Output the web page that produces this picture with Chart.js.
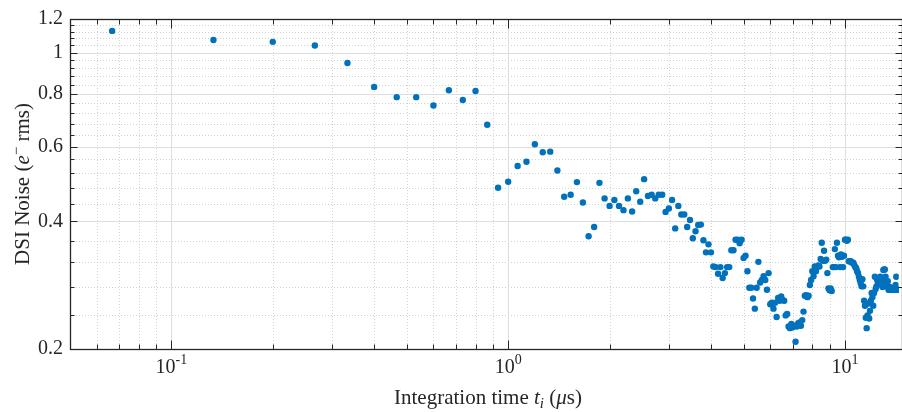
<!DOCTYPE html>
<html>
<head>
<meta charset="utf-8">
<script src="https://cdn.jsdelivr.net/npm/chart.js@4.4.0/dist/chart.umd.min.js"></script>
<style>
  html, body { margin: 0; padding: 0; background: #fff; }
</style>
</head>
<body>
<canvas id="myChart" width="902" height="412"></canvas>
<script>
// integration time (us)
const times = [
  0.0667, 0.1333, 0.2, 0.2667, 0.3333, 0.4, 0.4667, 0.5333, 0.6, 0.6667, 0.7333, 0.8, 0.8667, 0.9333,
  1, 1.0667, 1.1333, 1.2, 1.2667, 1.3333, 1.4, 1.4667, 1.5333, 1.6, 1.6667, 1.7333, 1.8, 1.8667, 1.9333,
  2, 2.0667, 2.1333, 2.2, 2.2667, 2.3333, 2.4, 2.4667, 2.5333, 2.6, 2.6667, 2.7333, 2.8, 2.8667, 2.9333,
  3, 3.0667, 3.1333, 3.2, 3.2667, 3.3333, 3.4, 3.4667, 3.5333, 3.6, 3.6667, 3.7333, 3.8, 3.8667, 3.9333,
  4, 4.0667, 4.1333, 4.2, 4.2667, 4.3333, 4.4, 4.4667, 4.5333, 4.6, 4.6667, 4.7333, 4.8, 4.8667, 4.9333,
  5, 5.0667, 5.1333, 5.2, 5.2667, 5.3333, 5.4, 5.4667, 5.5333, 5.6, 5.6667, 5.7333, 5.8, 5.8667, 5.9333,
  6, 6.0667, 6.1333, 6.2, 6.2667, 6.3333, 6.4, 6.4667, 6.5333, 6.6, 6.6667, 6.7333, 6.8, 6.8667, 6.9333,
  7, 7.0667, 7.1333, 7.2, 7.2667, 7.3333, 7.4, 7.4667, 7.5333, 7.6, 7.6667, 7.7333, 7.8, 7.8667, 7.9333,
  8, 8.0667, 8.1333, 8.2, 8.2667, 8.3333, 8.4, 8.4667, 8.5333, 8.6, 8.6667, 8.7333, 8.8, 8.8667, 8.9333,
  9, 9.0667, 9.1333, 9.2, 9.2667, 9.3333, 9.4, 9.4667, 9.5333, 9.6, 9.6667, 9.7333, 9.8, 9.8667, 9.9333,
  10, 10.0667, 10.1333, 10.2, 10.2667, 10.3333, 10.4, 10.4667, 10.5333, 10.6, 10.6667, 10.7333, 10.8, 10.8667, 10.9333,
  11, 11.0667, 11.1333, 11.2, 11.2667, 11.3333, 11.4, 11.4667, 11.5333, 11.6, 11.6667, 11.7333, 11.8, 11.8667, 11.9333,
  12, 12.0667, 12.1333, 12.2, 12.2667, 12.3333, 12.4, 12.4667, 12.5333, 12.6, 12.6667, 12.7333, 12.8, 12.8667, 12.9333,
  13, 13.0667, 13.1333, 13.2, 13.2667, 13.3333, 13.4, 13.4667, 13.5333, 13.6, 13.6667, 13.7333, 13.8, 13.8667, 13.9333,
  14, 14.0667, 14.1333, 14.2, 14.2667, 14.3333, 14.4
];

// DSI noise (e- rms)
const noise = [
  1.125, 1.071, 1.06, 1.039, 0.945, 0.83, 0.785, 0.785, 0.75, 0.815, 0.773, 0.812, 0.676, 0.48,
  0.496, 0.54, 0.553, 0.608, 0.582, 0.584, 0.527, 0.457, 0.462, 0.495, 0.443, 0.369, 0.388, 0.493, 0.453,
  0.435, 0.449, 0.435, 0.425, 0.453, 0.422, 0.471, 0.445, 0.503, 0.459, 0.462, 0.453, 0.462, 0.462, 0.421,
  0.429, 0.449, 0.385, 0.435, 0.415, 0.415, 0.388, 0.403, 0.365, 0.379, 0.392, 0.393, 0.361, 0.338, 0.353,
  0.338, 0.313, 0.312, 0.301, 0.312, 0.294, 0.302, 0.312, 0.312, 0.342, 0.342, 0.362, 0.362, 0.355, 0.362,
  0.328, 0.332, 0.305, 0.279, 0.279, 0.263, 0.249, 0.279, 0.321, 0.287, 0.291, 0.297, 0.291, 0.276, 0.302,
  0.255, 0.257, 0.249, 0.257, 0.238, 0.264, 0.26, 0.266, 0.261, 0.26, 0.24, 0.242, 0.226, 0.224, 0.229,
  0.225, 0.227, 0.208, 0.226, 0.23, 0.231, 0.227, 0.234, 0.245, 0.267, 0.268, 0.265, 0.267, 0.283, 0.291,
  0.305, 0.297, 0.313, 0.305, 0.312, 0.315, 0.313, 0.326, 0.356, 0.323, 0.341, 0.323, 0.325, 0.302, 0.278,
  0.275, 0.278, 0.274, 0.312, 0.312, 0.344, 0.312, 0.356, 0.332, 0.329, 0.312, 0.334, 0.33, 0.312, 0.332,
  0.362, 0.362, 0.36, 0.362, 0.322, 0.322, 0.322, 0.32, 0.32, 0.319, 0.315, 0.312, 0.31, 0.305, 0.302,
  0.296, 0.291, 0.286, 0.281, 0.292, 0.281, 0.26, 0.253, 0.237, 0.224, 0.24, 0.256, 0.236, 0.246, 0.26,
  0.271, 0.265, 0.253, 0.271, 0.296, 0.277, 0.281, 0.291, 0.286, 0.292, 0.289, 0.296, 0.284, 0.291, 0.28,
  0.307, 0.308, 0.308, 0.296, 0.288, 0.281, 0.289, 0.276, 0.276, 0.28, 0.276, 0.276, 0.277, 0.276, 0.276,
  0.278, 0.276, 0.283, 0.296, 0.276, 0.276, 0.276
];

// axis ticks
const yTicks = [0.2, 0.4, 0.6, 0.8, 1, 1.2];
const yMinor = [0.24, 0.28, 0.32, 0.36, 0.44, 0.48, 0.52, 0.56, 0.64, 0.68, 0.72, 0.76,
                0.84, 0.88, 0.92, 0.96, 1.04, 1.08, 1.12, 1.16];
const xTicks = [0.1, 1, 10];
const xTickExp = ['-1', '0', '1'];
const xMinor = [0.06, 0.07, 0.08, 0.09, 0.2, 0.3, 0.4, 0.5, 0.6, 0.7, 0.8, 0.9,
                2, 3, 4, 5, 6, 7, 8, 9];

const serif = "'Liberation Serif', 'DejaVu Serif', serif";
const axisColor = '#262626';

// grid lines, box and inward ticks (MATLAB look)
const axesPlugin = {
  id: 'axesPlugin',
  beforeDatasetsDraw(chart) {
    const { ctx, chartArea: a, scales: { x, y } } = chart;
    ctx.save();
    ctx.lineWidth = 1;
    ctx.strokeStyle = '#d2d2d2';
    ctx.setLineDash([1, 2]);
    ctx.beginPath();
    xMinor.forEach(v => {
      const px = Math.round(x.getPixelForValue(v)) + 0.5;
      ctx.moveTo(px, a.top); ctx.lineTo(px, a.bottom);
    });
    yMinor.forEach(v => {
      const py = Math.round(y.getPixelForValue(v)) + 0.5;
      ctx.moveTo(a.left, py); ctx.lineTo(a.right, py);
    });
    ctx.stroke();
    ctx.setLineDash([]);
    ctx.strokeStyle = '#dedede';
    ctx.beginPath();
    xTicks.forEach(v => {
      const px = Math.round(x.getPixelForValue(v)) + 0.5;
      ctx.moveTo(px, a.top); ctx.lineTo(px, a.bottom);
    });
    yTicks.forEach(v => {
      const py = Math.round(y.getPixelForValue(v)) + 0.5;
      ctx.moveTo(a.left, py); ctx.lineTo(a.right, py);
    });
    ctx.stroke();
    ctx.restore();
  },
  afterDatasetsDraw(chart) {
    const { ctx, chartArea: a, scales: { x, y } } = chart;
    // right edge of the box sits just past the canvas, as in the original
    const L = Math.round(a.left) + 0.5, R = Math.round(a.right) + 3.5;
    const T = Math.round(a.top) + 0.5, B = Math.round(a.bottom) + 0.5;
    ctx.save();
    ctx.strokeStyle = axisColor;
    ctx.lineWidth = 1;
    ctx.beginPath();
    const xt = (v, len) => {
      const px = Math.round(x.getPixelForValue(v)) + 0.5;
      ctx.moveTo(px, B); ctx.lineTo(px, B - len);
      ctx.moveTo(px, T); ctx.lineTo(px, T + len);
    };
    const yt = (v, len) => {
      const py = Math.round(y.getPixelForValue(v)) + 0.5;
      ctx.moveTo(L, py); ctx.lineTo(L + len, py);
      ctx.moveTo(R, py); ctx.lineTo(R - len, py);
    };
    xTicks.forEach(v => xt(v, 9));
    xMinor.forEach(v => xt(v, 5));
    yTicks.forEach(v => yt(v, 7));
    yMinor.forEach(v => yt(v, 4));
    ctx.stroke();
    ctx.lineWidth = 1.3;
    ctx.strokeRect(L, T, R - L, B - T);
    ctx.restore();
  },
  afterDraw(chart) {
    const { ctx, chartArea: a, scales: { x } } = chart;
    ctx.save();
    ctx.fillStyle = axisColor;
    ctx.textBaseline = 'alphabetic';

    // x tick labels 10^n
    xTicks.forEach((v, i) => {
      const px = x.getPixelForValue(v);
      ctx.font = `20px ${serif}`;
      const w1 = ctx.measureText('10').width;
      ctx.font = `14px ${serif}`;
      const w2 = ctx.measureText(xTickExp[i]).width;
      const x0 = px - (w1 + w2) / 2;
      ctx.font = `20px ${serif}`;
      ctx.fillText('10', x0, 373);
      ctx.font = `14px ${serif}`;
      ctx.fillText(xTickExp[i], x0 + w1, 364);
    });

    // x title: Integration time t_i (us)
    const parts = [
      ['Integration time ', `21px ${serif}`, 0],
      ['t', `italic 21px ${serif}`, 0],
      ['i', `italic 15px ${serif}`, 4],
      [' (', `21px ${serif}`, 0],
      ['\u03bc', `italic 21px ${serif}`, 0],
      ['s)', `21px ${serif}`, 0]
    ];
    let total = 0;
    parts.forEach(p => { ctx.font = p[1]; total += ctx.measureText(p[0]).width; });
    let cx = 488 - total / 2;
    parts.forEach(p => {
      ctx.font = p[1];
      ctx.fillText(p[0], cx, 404 + p[2]);
      cx += ctx.measureText(p[0]).width;
    });

    // y title: DSI Noise (e- rms)
    const yparts = [
      ['DSI Noise (', `21px ${serif}`, 0],
      ['e', `italic 21px ${serif}`, 0],
      ['\u2212', `15px ${serif}`, -8],
      [' rms)', `21px ${serif}`, 0]
    ];
    total = 0;
    yparts.forEach(p => { ctx.font = p[1]; total += ctx.measureText(p[0]).width; });
    ctx.translate(29, (a.top + a.bottom) / 2);
    ctx.rotate(-Math.PI / 2);
    cx = -total / 2;
    yparts.forEach(p => {
      ctx.font = p[1];
      ctx.fillText(p[0], cx, p[2]);
      cx += ctx.measureText(p[0]).width;
    });
    ctx.restore();
  }
};

new Chart(document.getElementById('myChart'), {
  type: 'scatter',
  data: {
    datasets: [{
      label: 'DSI noise',
      data: times.map((t, i) => ({ x: t, y: noise[i] })),
      backgroundColor: '#0072BD',
      borderWidth: 0,
      pointRadius: 3.2,
      pointHoverRadius: 3.2
    }]
  },
  plugins: [axesPlugin],
  options: {
    responsive: false,
    animation: false,
    devicePixelRatio: 1,
    layout: { padding: { top: 14, right: 0, left: 0, bottom: 0 } },
    plugins: {
      legend: { display: false },
      tooltip: { enabled: false }
    },
    scales: {
      x: {
        type: 'logarithmic',
        min: 0.05,
        max: 14.45,
        grid: { display: false },
        border: { display: false },
        ticks: { display: false },
        afterFit: s => { s.height = 63; }
      },
      y: {
        type: 'logarithmic',
        min: 0.2,
        max: 1.2,
        grid: { display: false, drawTicks: false },
        border: { display: false },
        afterBuildTicks: s => { s.ticks = yTicks.map(v => ({ value: v })); },
        ticks: {
          color: axisColor,
          padding: 7,
          font: { family: serif, size: 20 },
          callback: v => String(v)
        },
        afterFit: s => { s.width = 70; }
      }
    }
  }
});
</script>
</body>
</html>
